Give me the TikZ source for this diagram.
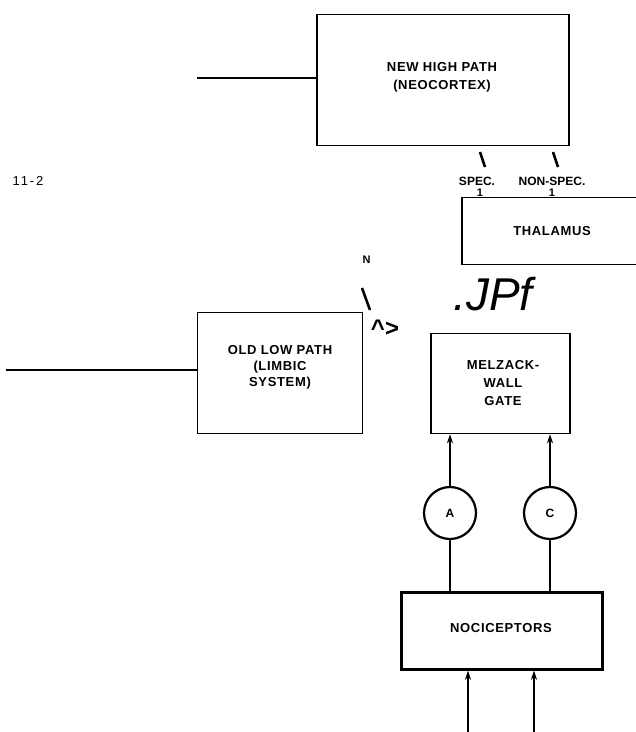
\documentclass[tikz,border=0pt]{standalone}
\usepackage{fontspec}
\setmainfont{Liberation Sans}
\newfontfamily\spacedfont[LetterSpace=5]{Liberation Sans}
\newfontfamily\widefont[LetterSpace=15]{Liberation Sans}
\usetikzlibrary{arrows.meta}

\begin{document}
\begin{tikzpicture}[
		x=1pt, y=-1pt,
		box/.style={draw, line width=1.5pt, fill=white, inner sep=0pt},
		boxtext/.style={font=\spacedfont\bfseries\fontsize{13}{18}\selectfont, align=center},
		nerve/.style={line width=1.2pt},
		scan/.style={line width=2.4pt},
		ascend/.style={scan, -{Stealth[length=9pt, width=6pt]}},
		tickmark/.style={line width=2.6pt},
		fibre/.style={circle, draw, line width=2.2pt, minimum size=52pt, inner sep=0pt},
		every node/.style={font=\bfseries\fontsize{11}{13}\selectfont}
	]
	\useasboundingbox (0,0) rectangle (636,732);
	
	% Figure number
	\node[font=\widefont\fontsize{13}{13}\selectfont] (fignum) at (28,181) {11-2};
	
	% New high path
	\node[box, minimum width=252pt, minimum height=131pt] (highpath) at (443,80) {};
	\node[boxtext] (hightext) at (442,77) {NEW HIGH PATH\\(NEOCORTEX)};
	\coordinate (highin) at (197,78);
	\draw[nerve] (highin) -- (highin -| highpath.west);
	
	% Thalamus with its two relays
	\draw[tickmark] (480,152) -- (485,167);
	\draw[tickmark] (553,152) -- (558,167);
	\node[font=\bfseries\fontsize{12}{12}\selectfont] (spec) at (477,181) {SPEC.};
	\node[font=\bfseries\fontsize{12}{12}\selectfont] (nonspec) at (552,181) {NON-SPEC.};
	\node (specone) at (480,193) {1};
	\node (nonspecone) at (552,193) {1};
	\node[box, minimum width=178pt, minimum height=67pt] (thalamus) at (551,231) {};
	\node[boxtext] (thaltext) at (552,231) {THALAMUS};
	
	% Stray marks
	\node (nlabel) at (366.5,260) {N};
	\draw[tickmark] (362,288) -- (370,310);
	\node[font=\bfseries\fontsize{24}{24}\selectfont] (caret) at (385,328) {\textasciicircum>};
	\node[font=\itshape\fontsize{46}{46}\selectfont] (jpf) at (493,294) {.JPf};
	
	% Old low path
	\node[box, minimum width=165pt, minimum height=121pt] (lowpath) at (280,373) {};
	\node[boxtext, font=\spacedfont\bfseries\fontsize{13}{16}\selectfont] (lowtext) at (280,367) {OLD LOW PATH\\(LIMBIC\\SYSTEM)};
	\coordinate (lowin) at (6,370);
	\draw[nerve] (lowin) -- (lowin -| lowpath.west);
	
	% Gate
	\node[box, minimum width=139pt, minimum height=100pt] (gate) at (500.5,383.5) {};
	\node[boxtext] (gatetext) at (503,383) {MELZACK-\\WALL\\GATE};
	
	% Fibres
	\node[fibre, font=\bfseries\fontsize{12}{12}\selectfont] (afibre) at (450,513) {A};
	\node[fibre, font=\bfseries\fontsize{12}{12}\selectfont] (cfibre) at (550,513) {C};
	
	% Nociceptors
	\node[box, line width=2.4pt, minimum width=201pt, minimum height=77pt] (noci) at (502,631) {};
	\node[boxtext] (nocitext) at (501,628) {NOCICEPTORS};
	
	\draw[ascend] (afibre.north) -- (afibre.north |- gate.south);
	\draw[ascend] (cfibre.north) -- (cfibre.north |- gate.south);
	\draw[scan] (afibre.south) -- (afibre.south |- noci.north);
	\draw[scan] (cfibre.south) -- (cfibre.south |- noci.north);
	
	\coordinate (stimone) at (468,732);
	\coordinate (stimtwo) at (534,732);
	\draw[ascend] (stimone) -- (stimone |- noci.south);
	\draw[ascend] (stimtwo) -- (stimtwo |- noci.south);
	
\end{tikzpicture}
\end{document}
